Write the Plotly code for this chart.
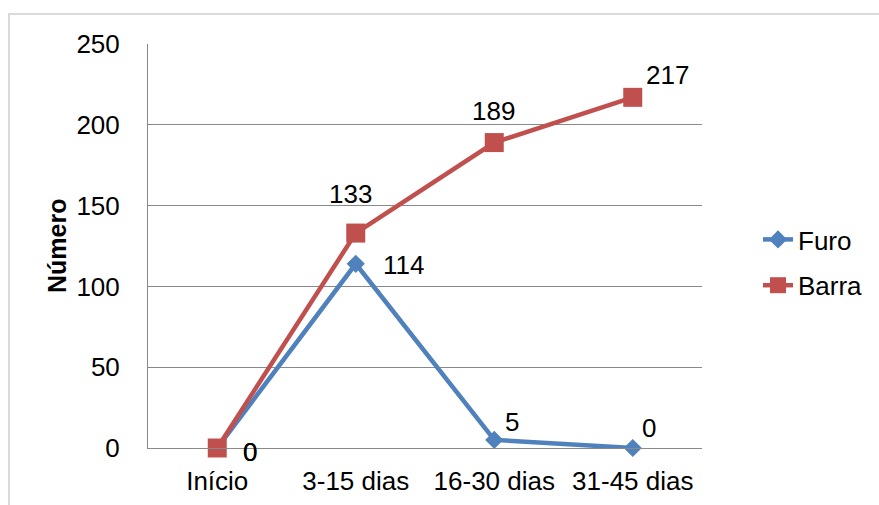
import plotly.graph_objects as go

# Chart data
categories = ["Início", "3-15 dias", "16-30 dias", "31-45 dias"]
furo = [0, 114, 5, 0]
barra = [0, 133, 189, 217]
y_ticks = [0, 50, 100, 150, 200, 250]

BLUE = "#4F81BD"
RED = "#C0504D"
GRID = "#898989"
FONT = "Liberation Sans, Arial, sans-serif"
FS = 26

W, H = 879, 505
L, R, T, B = 148, 177, 44, 57
pw, ph = W - L - R, H - T - B

fig = go.Figure()
fig.add_trace(go.Scatter(
    x=categories, y=furo, name="Furo", mode="lines+markers",
    line=dict(color=BLUE, width=4.5),
    marker=dict(symbol="diamond", size=14, color=BLUE),
    legendgroup="a", cliponaxis=False,
))
fig.add_trace(go.Scatter(
    x=categories, y=barra, name="Barra", mode="lines+markers",
    line=dict(color=RED, width=4.5),
    marker=dict(symbol="square", size=19, color=RED),
    legendgroup="b", cliponaxis=False,
))

# Value labels, offset in pixels from each point
furo_off = [(33, 4), (48, 1), (18, -18), (16, -20)]
barra_off = [(33, 4), (-5, -39), (-1, -32), (35, -22)]
for vals, offs in ((furo, furo_off), (barra, barra_off)):
    for cat, v, (dx, dy) in zip(categories, vals, offs):
        fig.add_annotation(
            x=cat, y=v, text=str(v), showarrow=False,
            xshift=dx, yshift=-dy, xanchor="center", yanchor="middle",
            font=dict(size=FS, color="black", family=FONT),
        )

# Y axis title
fig.add_annotation(
    xref="paper", yref="paper", x=(57 - L) / pw, y=0.5,
    text="<b>Número</b>", textangle=-90, showarrow=False,
    xanchor="center", yanchor="middle",
    font=dict(size=FS - 1, color="black", family=FONT),
)

# Outer chart frame
fig.add_shape(
    type="rect", xref="paper", yref="paper",
    x0=(9 - L) / pw, x1=(W + 10 - L) / pw,
    y0=-(H + 10 - (H - B)) / ph, y1=((H - B) - 14) / ph,
    line=dict(color="#d9d9d9", width=2), layer="below",
)

fig.update_layout(
    width=W, height=H,
    margin=dict(l=L, r=R, t=T, b=B, autoexpand=False),
    paper_bgcolor="white", plot_bgcolor="white",
    font=dict(family=FONT, size=FS, color="black"),
    showlegend=True,
    legend=dict(
        x=(758 - L) / pw, y=(H - B - 216) / ph, xanchor="left", yanchor="top",
        font=dict(size=FS, family=FONT), traceorder="grouped",
        tracegroupgap=9, bgcolor="rgba(0,0,0,0)",
    ),
    xaxis=dict(
        range=[-0.5, 3.5], showgrid=False, showline=True, linecolor=GRID,
        linewidth=1, ticks="", zeroline=False, ticklabelstandoff=10,
    ),
    yaxis=dict(
        range=[0, 250], tickvals=y_ticks, showgrid=True, gridcolor=GRID,
        gridwidth=1, showline=True, linecolor=GRID, linewidth=1,
        ticks="", zeroline=False, ticklabelstandoff=22,
    ),
)

fig.write_html("out.html")
